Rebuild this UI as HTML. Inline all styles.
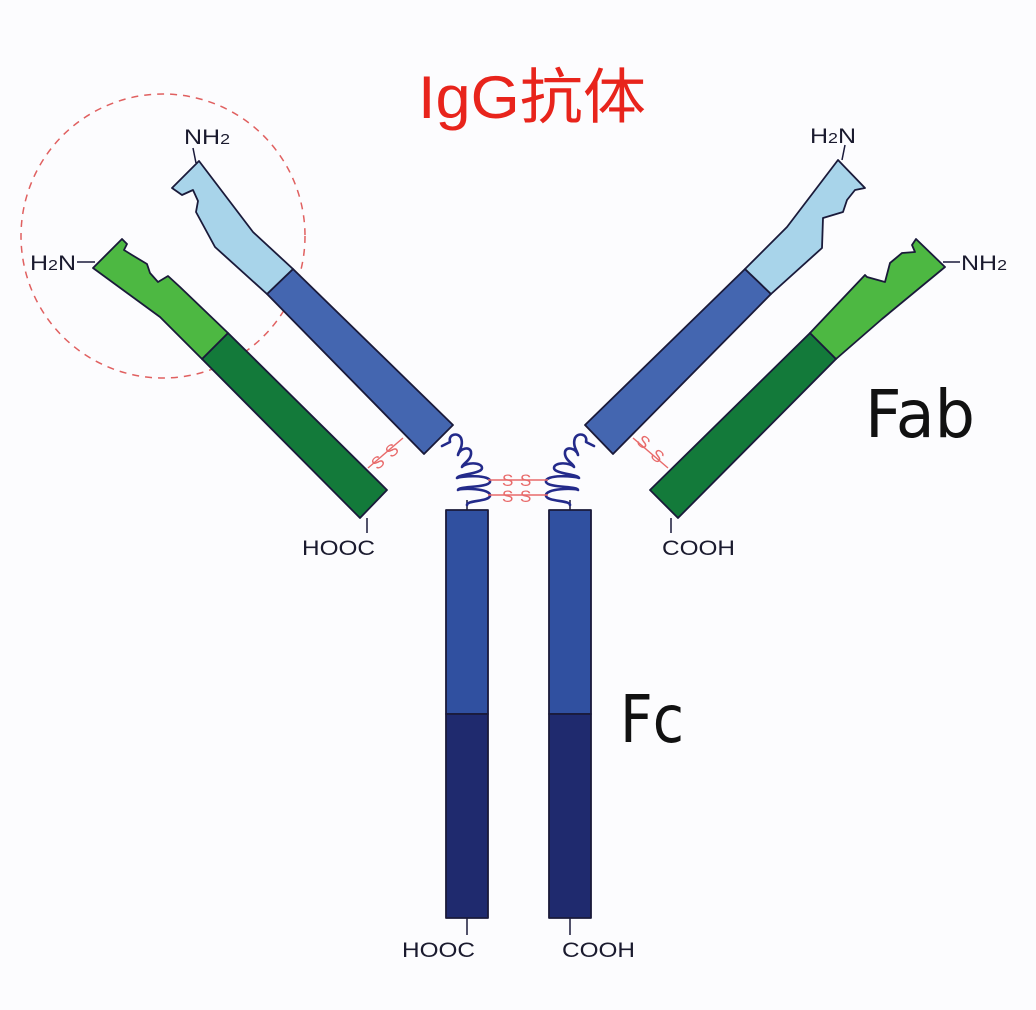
<!DOCTYPE html>
<html><head><meta charset="utf-8"><style>
html,body{margin:0;padding:0;background:#fff;}
svg{display:block}
</style></head><body>
<svg width="1036" height="1010" viewBox="0 0 1036 1010" xmlns="http://www.w3.org/2000/svg">
<rect width="1036" height="1010" fill="#fcfcfe"/>
<text x="418" y="118" font-family="Liberation Sans, Noto Sans CJK SC, sans-serif" font-size="60" fill="#e8241c" textLength="228" lengthAdjust="spacingAndGlyphs">IgG抗体</text>

<circle cx="163" cy="236" r="142" fill="none" stroke="#e06060" stroke-width="1.5" stroke-dasharray="7,6"/>

<g stroke="#1a1a3a" stroke-width="1.8" stroke-linejoin="round">
<polygon points="293,269 453,425 424,454 267,294" fill="#4466b0"/>
<polygon points="267,294 215,247 196,212 198,201 193,190 182,195 172,188 199,161 253,232 293,269" fill="#a8d4ea"/>
<polygon points="228,333 387,490 360,518 202,359" fill="#137a3a"/>
<polygon points="202,359 160,317 93,268 122,239 127,244 124,250 132,255 147,264 150,273 158,282 168,276 180,287 228,333" fill="#4db842"/>
<polygon points="745,269 585,425 613,454 771,294" fill="#4466b0"/>
<polygon points="771,294 822,248 823,218 843,212 847,200 855,190 865,188 838,160 787,227 745,269" fill="#a8d4ea"/>
<polygon points="810,333 650,490 678,518 836,359" fill="#137a3a"/>
<polygon points="836,359 882,319 945,267 916,239 912,245 915,252 902,253 890,263 885,282 867,277 865,275 810,333" fill="#4db842"/>
<rect x="446" y="510" width="42" height="204" fill="#3050a0"/>
<rect x="446" y="714" width="42" height="204" fill="#1f2a6e"/>
<rect x="549" y="510" width="42" height="204" fill="#3050a0"/>
<rect x="549" y="714" width="42" height="204" fill="#1f2a6e"/>
</g>

<g stroke="#1a1a3a" stroke-width="1.5">
<line x1="193" y1="148" x2="196" y2="163"/>
<line x1="77" y1="262" x2="95" y2="262"/>
<line x1="367" y1="518" x2="367" y2="533"/>
<line x1="845" y1="145" x2="842" y2="160"/>
<line x1="943" y1="262" x2="960" y2="262"/>
<line x1="671" y1="518" x2="671" y2="533"/>
<line x1="467" y1="918" x2="467" y2="935"/>
<line x1="570" y1="918" x2="570" y2="935"/>
<line x1="467" y1="500" x2="467" y2="510"/>
<line x1="570" y1="500" x2="570" y2="510"/>
</g>

<g fill="none" stroke="#232a8a" stroke-width="2.6" stroke-linecap="round" stroke-linejoin="round">
<path d="M442,446 L450,442 C448,434 458,432 461,438 C464,446 458,452 458,455 C460,448 470,446 471,452 C472,460 462,464 462,467 C466,462 482,462 482,468 C482,474 458,474 457,478 C460,476 492,474 490,482 C488,488 458,486 458,490 C460,488 492,488 490,496 C488,502 467,500 467,505"/>
<path d="M594,446 L586,442 C588,434 578,432 575,438 C572,446 578,452 578,455 C576,448 566,446 565,452 C564,460 574,464 574,467 C570,462 554,462 554,468 C554,474 578,474 579,478 C576,476 544,474 546,482 C548,488 578,486 578,490 C576,488 544,488 546,496 C548,502 570,500 570,505"/>
</g>

<g fill="none" stroke="#e86a6a" stroke-width="1.4">
<line x1="488" y1="480" x2="548" y2="480"/>
<line x1="488" y1="495" x2="548" y2="495"/>
<line x1="368" y1="468" x2="403" y2="438"/>
<line x1="633" y1="438" x2="668" y2="468"/>
</g>
<g font-family="Liberation Sans, sans-serif" font-size="17" fill="#e86a6a">
<text x="502" y="486">S</text><text x="520" y="486">S</text>
<text x="502" y="502">S</text><text x="520" y="502">S</text>
<text x="372" y="468" transform="rotate(-40 378 462)">S</text>
<text x="386" y="456" transform="rotate(-40 392 450)">S</text>
<text x="638" y="448" transform="rotate(40 644 442)">S</text>
<text x="652" y="462" transform="rotate(40 658 456)">S</text>
</g>

<g font-family="Liberation Sans, sans-serif" font-size="21" fill="#1a1a2e">
<text x="184" y="144" textLength="46" lengthAdjust="spacingAndGlyphs">NH<tspan font-size="15">2</tspan></text>
<text x="30" y="270" textLength="46" lengthAdjust="spacingAndGlyphs">H<tspan font-size="15">2</tspan>N</text>
<text x="302" y="555" textLength="73" lengthAdjust="spacingAndGlyphs">HOOC</text>
<text x="810" y="143" textLength="46" lengthAdjust="spacingAndGlyphs">H<tspan font-size="15">2</tspan>N</text>
<text x="961" y="270" textLength="46" lengthAdjust="spacingAndGlyphs">NH<tspan font-size="15">2</tspan></text>
<text x="662" y="555" textLength="73" lengthAdjust="spacingAndGlyphs">COOH</text>
<text x="402" y="957" textLength="73" lengthAdjust="spacingAndGlyphs">HOOC</text>
<text x="562" y="957" textLength="73" lengthAdjust="spacingAndGlyphs">COOH</text>
</g>
<g font-family="DejaVu Sans, sans-serif" font-size="66" fill="#111">
<text x="865" y="437" textLength="110" lengthAdjust="spacingAndGlyphs">Fab</text>
<text x="620" y="742" textLength="64" lengthAdjust="spacingAndGlyphs">Fc</text>
</g>
</svg>
</body></html>
